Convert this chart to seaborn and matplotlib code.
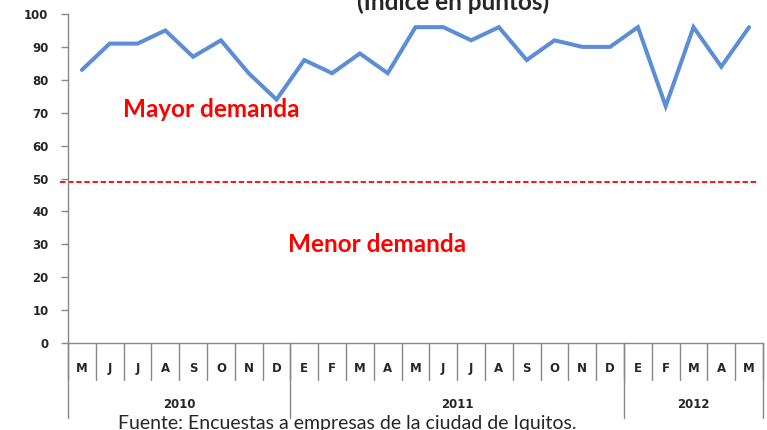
import matplotlib
matplotlib.use("Agg")
import matplotlib.pyplot as plt
import matplotlib.transforms as mtransforms
import numpy as np
import pandas as pd
import seaborn as sns

# ----------------------------------------------------------------------
# Data
# ----------------------------------------------------------------------
months = ["M", "J", "J", "A", "S", "O", "N", "D",
          "E", "F", "M", "A", "M", "J", "J", "A", "S", "O", "N", "D",
          "E", "F", "M", "A", "M"]
index_values = [83, 91, 91, 95, 87, 92, 82, 74,
                86, 82, 88, 82, 96, 96, 92, 96, 86, 92, 90, 90,
                96, 72, 96, 84, 96]
years = ["2010", "2011", "2012"]
months_per_year = [8, 12, 5]
threshold = 49

title = "(Índice en puntos)"
label_up = "Mayor demanda"
label_down = "Menor demanda"
source = "Fuente: Encuestas a empresas de la ciudad de Iquitos."

df = pd.DataFrame({"pos": np.arange(len(months)), "value": index_values})

# ----------------------------------------------------------------------
# Figure
# ----------------------------------------------------------------------
sns.set_style("white")
plt.rcParams["font.family"] = ["DejaVu Sans"]

fig = plt.figure(figsize=(7.67, 4.30), dpi=100)
ax = fig.add_axes([68 / 767, 1 - 343 / 430, 695 / 767, 329 / 430])

sns.lineplot(data=df, x="pos", y="value", ax=ax, color="#5B8ED6",
             linewidth=2.9, solid_joinstyle="miter")

ax.axhline(threshold, xmin=-0.012, xmax=0.991, color="#FF0000",
           linestyle=(0, (3, 1.5)), linewidth=1.3, clip_on=False)

ax.set_xlim(-0.5, len(months) - 0.5)
ax.set_ylim(0, 100)
ax.set_yticks(range(0, 101, 10))
ax.set_yticklabels([str(v) for v in range(0, 101, 10)],
                   fontsize=8.5, fontweight="bold")
ax.tick_params(axis="y", length=5, width=1, color="#888888", left=True,
               pad=9)
ax.set_xticks([])
ax.set_xlabel("")
ax.set_ylabel("")

for side in ["top", "right"]:
    ax.spines[side].set_visible(False)
for side in ["left", "bottom"]:
    ax.spines[side].set_color("#888888")
    ax.spines[side].set_linewidth(1)

# two-level category axis
trans = mtransforms.blended_transform_factory(ax.transData, ax.transAxes)
for i, m in enumerate(months):
    ax.text(i, -0.076, m, transform=trans, ha="center", va="center",
            fontsize=8.5, fontweight="bold")
for k in range(len(months) + 1):
    ax.plot([k - 0.5, k - 0.5], [0, -0.112], transform=trans,
            color="#888888", lw=1, clip_on=False)

start = 0
bounds = [start]
for y, n in zip(years, months_per_year):
    ax.text(start + (n - 1) / 2, -0.188, y, transform=trans,
            ha="center", va="center", fontsize=8.5, fontweight="bold")
    start += n
    bounds.append(start)
for b in bounds:
    ax.plot([b - 0.5, b - 0.5], [0, -0.228], transform=trans,
            color="#888888", lw=1, clip_on=False)

# annotations
ax.text(4.64, 71, label_up, ha="center", va="center", color="#FF0000",
        fontsize=17.5, fontweight="bold", family=["Lato", "DejaVu Sans"])
ax.text(10.6, 30, label_down, ha="center", va="center", color="#FF0000",
        fontsize=17.5, fontweight="bold", family=["Lato", "DejaVu Sans"])

fig.text(453 / 767, 1.0, title, ha="center", va="center", fontsize=17.5,
         fontweight="bold", family=["Lato", "DejaVu Sans"])
fig.text(118 / 767, 1 - 423 / 430, source, ha="left", va="center",
         fontsize=14, family=["Lato", "DejaVu Sans"])

fig.savefig("out.png", dpi=100)
